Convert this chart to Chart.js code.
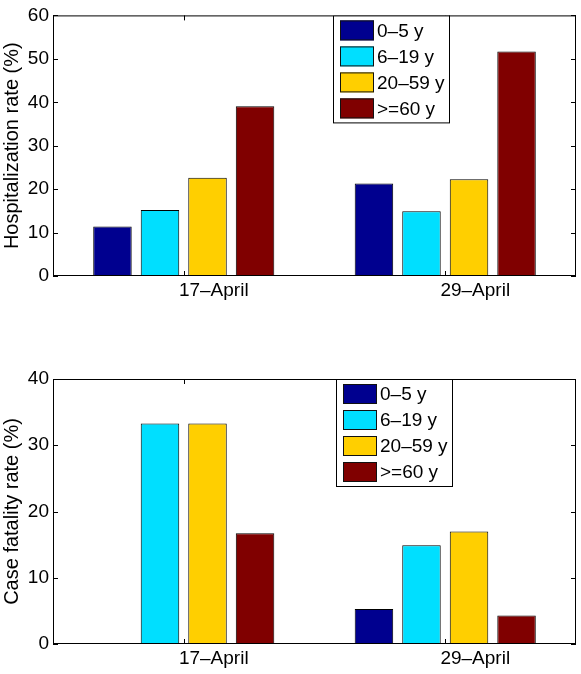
<!DOCTYPE html>
<html>
<head>
<meta charset="utf-8">
<script src="https://cdn.jsdelivr.net/npm/chart.js@4.4.1/dist/chart.umd.min.js"></script>
<style>
  body { margin: 0; background: #fff; }
  #wrap { width: 581px; height: 674px; }
  .box { position: relative; width: 581px; height: 337px; }
</style>
</head>
<body>
<div id="wrap">
  <div class="box"><canvas id="hospChart"></canvas></div>
  <div class="box"><canvas id="fatalChart"></canvas></div>
</div>
<script>
// data
const dates = ["17\u2013April", "29\u2013April"];
const ageGroups = ["0\u20135 y", "6\u201319 y", "20\u201359 y", ">=60 y"];
const ageColors = ["#00008f", "#00dfff", "#ffcf00", "#800000"];

const hospAge0to5 = [11.4, 21.3];
const hospAge6to19 = [15.2, 14.9];
const hospAge20to59 = [22.6, 22.3];
const hospAge60plus = [39.1, 51.7];

const fatalAge0to5 = [0, 5.3];
const fatalAge6to19 = [33.3, 14.9];
const fatalAge20to59 = [33.3, 17.0];
const fatalAge60plus = [16.7, 4.3];

const hospTicks = [0, 10, 20, 30, 40, 50, 60];
const fatalTicks = [0, 10, 20, 30, 40];

const FONT = "'Liberation Sans', Arial, sans-serif";

// box + inward ticks, matlab style
const frame = {
  id: "frame",
  afterDraw(chart) {
    const { ctx, chartArea: a, scales } = chart;
    ctx.save();
    ctx.strokeStyle = "#000";
    ctx.lineWidth = 1;
    ctx.strokeRect(a.left + 0.5, a.top + 0.5, a.right - a.left - 1, a.bottom - a.top - 1);
    ctx.beginPath();
    scales.y.ticks.forEach(t => {
      const y = Math.round(scales.y.getPixelForValue(t.value)) + 0.5;
      ctx.moveTo(a.left, y); ctx.lineTo(a.left + 5, y);
      ctx.moveTo(a.right, y); ctx.lineTo(a.right - 5, y);
    });
    chart.data.labels.forEach((l, i) => {
      const x = Math.round(scales.x.getPixelForValue(i)) + 0.5;
      ctx.moveTo(x, a.bottom); ctx.lineTo(x, a.bottom - 5);
      ctx.moveTo(x, a.top); ctx.lineTo(x, a.top + 5);
    });
    ctx.stroke();
    ctx.restore();
  }
};

// legend box drawn inside the plot
const boxLegend = {
  id: "boxLegend",
  afterDraw(chart, args, opts) {
    const { ctx, chartArea: a } = chart;
    const x0 = a.left + opts.dx, y0 = a.top;
    const w = 116, h = 107;
    ctx.save();
    ctx.fillStyle = "#fff";
    ctx.fillRect(x0, y0, w, h);
    ctx.strokeStyle = "#000";
    ctx.lineWidth = 1;
    ctx.strokeRect(x0 + 0.5, y0 + 0.5, w, h);
    ctx.font = "19px " + FONT;
    ctx.textBaseline = "middle";
    chart.data.datasets.forEach((ds, i) => {
      const sy = y0 + 5 + i * 26;
      ctx.fillStyle = ds.backgroundColor;
      ctx.fillRect(x0 + 7, sy, 34, 20);
      ctx.strokeStyle = "#111";
      ctx.strokeRect(x0 + 7.5, sy + 0.5, 33, 19);
      ctx.fillStyle = "#000";
      ctx.fillText(ds.label, x0 + 44, sy + 11);
    });
    ctx.restore();
  }
};

function makeChart(id, series, ticks, title, padTop, xHeight, legendDx) {
  return new Chart(document.getElementById(id), {
    type: "bar",
    data: {
      labels: dates,
      datasets: series.map((vals, i) => ({
        label: ageGroups[i],
        data: vals,
        backgroundColor: ageColors[i],
        borderColor: "#000",
        borderWidth: 1,
        borderSkipped: false,
        categoryPercentage: 0.727,
        barPercentage: 0.81
      }))
    },
    options: {
      responsive: false,
      animation: false,
      layout: { padding: { top: padTop, right: 5, left: 0, bottom: 0 } },
      plugins: {
        legend: { display: false },
        tooltip: { enabled: false },
        boxLegend: { dx: legendDx }
      },
      scales: {
        x: {
          grid: { display: false, drawTicks: false },
          border: { display: false },
          ticks: { color: "#000", font: { family: FONT, size: 19 }, padding: 3, labelOffset: 30 },
          afterFit: s => { s.height = xHeight; }
        },
        y: {
          min: ticks[0],
          max: ticks[ticks.length - 1],
          afterBuildTicks: s => { s.ticks = ticks.map(v => ({ value: v })); },
          grid: { display: false, drawTicks: false },
          border: { display: false },
          ticks: { color: "#000", font: { family: FONT, size: 19 }, padding: 4 },
          title: { display: true, text: title, color: "#000", font: { family: FONT, size: 20 }, padding: 0 },
          afterFit: s => { s.width = 53; }
        }
      }
    },
    plugins: [frame, boxLegend]
  });
}

const c1 = document.getElementById("hospChart");
c1.width = 581; c1.height = 337;
const c2 = document.getElementById("fatalChart");
c2.width = 581; c2.height = 337;

makeChart("hospChart",
  [hospAge0to5, hospAge6to19, hospAge20to59, hospAge60plus],
  hospTicks, "Hospitalization rate (%)", 11, 61, 280);
makeChart("fatalChart",
  [fatalAge0to5, fatalAge6to19, fatalAge20to59, fatalAge60plus],
  fatalTicks, "Case fatality rate (%)", 42, 30, 283);
</script>
</body>
</html>
